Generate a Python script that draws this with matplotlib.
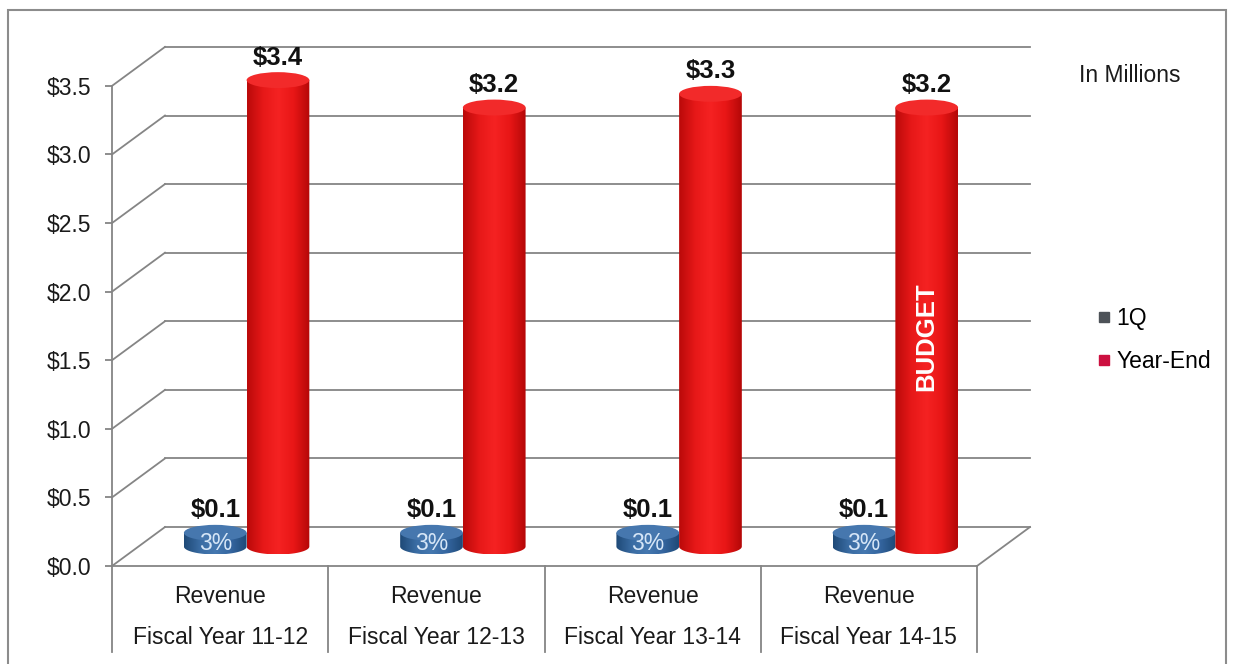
import numpy as np
import matplotlib
matplotlib.use("Agg")
import matplotlib.pyplot as plt
from matplotlib.patches import Ellipse, Polygon, Rectangle
from matplotlib.colors import LinearSegmentedColormap
from matplotlib.lines import Line2D
from matplotlib.ticker import FuncFormatter

plt.rcParams['font.family'] = ['Liberation Sans', 'DejaVu Sans']

# data (in millions)
categories = ['Fiscal Year 11-12', 'Fiscal Year 12-13', 'Fiscal Year 13-14', 'Fiscal Year 14-15']
metric = 'Revenue'
q1 = [0.1, 0.1, 0.1, 0.1]
year_end = [3.4, 3.2, 3.3, 3.2]
series_names = ['1Q', 'Year-End']
notes = [None, None, None, 'BUDGET']
yticks = [0.0, 0.5, 1.0, 1.5, 2.0, 2.5, 3.0, 3.5]

# fake 3d box geometry, in data units
DX = 0.245      # depth shift to the right
DY = 0.284      # depth shift upwards
DEPTH = 0.5     # cylinders stand half way into the box
BAR_W = 0.29
RY = 0.058
OFFS = [-0.145, 0.145]
GRID = '#858585'

W, H = 1233, 664
fig = plt.figure(figsize=(W / 100, H / 100), dpi=100)
ax = fig.add_axes([112 / W, 98 / H, 865 / W, 535 / H])


def cylinder(x, h, stops, top_col, z):
    cx = x + DEPTH * DX
    base = DEPTH * DY
    t = np.linspace(np.pi, 2 * np.pi, 50)
    arc = np.column_stack([cx + BAR_W / 2 * np.cos(t), base + RY * np.sin(t)])
    outline = np.vstack([[cx - BAR_W / 2, base + h], arc, [cx + BAR_W / 2, base + h]])
    body = Polygon(outline, closed=True, fc='none', ec='none')
    ax.add_patch(body)
    cmap = LinearSegmentedColormap.from_list('cyl', stops)
    grad = np.linspace(0, 1, 64).reshape(1, -1)
    im = ax.imshow(grad, cmap=cmap, aspect='auto', interpolation='bicubic',
                   extent=[cx - BAR_W / 2, cx + BAR_W / 2, base - RY, base + h], zorder=z)
    im.set_clip_path(body)
    ax.add_patch(Ellipse((cx, base + h), BAR_W, 2 * RY, fc=top_col, ec='none', zorder=z + 0.1))
    return cx, base + h + RY


# walls and floor
n = len(categories)
for v in yticks:
    ax.plot([0, DX], [v, v + DY], color=GRID, lw=1.3, zorder=1, clip_on=False)
    ax.plot([DX, n + DX], [v + DY, v + DY], color=GRID, lw=1.3, zorder=1, clip_on=False)
ax.plot([0, n], [0, 0], color=GRID, lw=1.3, zorder=1, clip_on=False)
ax.plot([n, n + DX], [0, DY], color=GRID, lw=1.3, zorder=1, clip_on=False)
for i in range(n + 1):
    ax.plot([i, i], [0, -0.63], color=GRID, lw=1.3, zorder=1, clip_on=False)

blue_stops = ['#1f4a78', '#3a6ca3', '#4578b0', '#3566a0', '#1f4a78']
red_stops = ['#bb0a0a', '#e61818', '#f52222', '#e81616', '#b50808']

for i in range(n):
    # 1Q disc
    cx, top = cylinder(i + 0.5 + OFFS[0], q1[i], blue_stops, '#4677ae', 3)
    ax.text(cx, top + 0.055, '$%.1f' % q1[i], ha='center', va='baseline',
            fontsize=18.5, fontweight='bold', color='#111111', zorder=7)
    ax.text(cx, DEPTH * DY + q1[i] * 0.4, '{:.0%}'.format(q1[i] / year_end[i]),
            ha='center', va='center_baseline', fontsize=16.5, color='#d6e6f7', zorder=7)
    # year-end cylinder
    cx, top = cylinder(i + 0.5 + OFFS[1], year_end[i], red_stops, '#f22a2a', 4)
    ax.text(cx, top + 0.055, '$%.1f' % year_end[i], ha='center', va='baseline',
            fontsize=18.5, fontweight='bold', color='#111111', zorder=7)
    if notes[i]:
        ax.text(cx, 1.67, notes[i], rotation=90, ha='center', va='center',
                fontsize=18.5, fontweight='bold', color='white', zorder=7)
    # category labels
    ax.text(i + 0.5, -0.22, metric, ha='center', va='center', fontsize=16.5, color='#1a1a1a')
    ax.text(i + 0.5, -0.52, categories[i], ha='center', va='center', fontsize=16.5, color='#1a1a1a')

ax.set_xlim(0, n)
ax.set_ylim(0, 3.9)
ax.set_xticks([])
ax.set_yticks(yticks)
ax.yaxis.set_major_formatter(FuncFormatter(lambda v, p: '$%.1f' % v))
ax.tick_params(axis='y', length=5, width=1.3, color=GRID, labelsize=16.5, pad=10, labelcolor='#1a1a1a')
for s in ['top', 'right', 'bottom']:
    ax.spines[s].set_visible(False)
ax.spines['left'].set_bounds(0, 3.5)
ax.spines['left'].set_color(GRID)
ax.spines['left'].set_linewidth(1.3)
ax.patch.set_alpha(0)

handles = [Line2D([], [], marker='s', ls='', color='#4d5258', markersize=7),
           Line2D([], [], marker='s', ls='', color='#cc1040', markersize=7)]
fig.legend(handles, series_names, loc='center left', bbox_to_anchor=(1076 / W, 1 - 340 / H),
           frameon=False, fontsize=16.5, handlelength=0.6, handletextpad=0.25, labelspacing=0.85)

fig.text(1130 / W, 1 - 75 / H, 'In Millions', ha='center', va='center', fontsize=16.5, color='#1a1a1a')

# outer chart frame
fig.add_artist(Rectangle((8 / W, -0.05), (1226 - 8) / W, 1 - 10 / H + 0.05,
                         transform=fig.transFigure, fill=False, ec='#8c8c8c', lw=1.5))

fig.savefig('out.png', dpi=100)
